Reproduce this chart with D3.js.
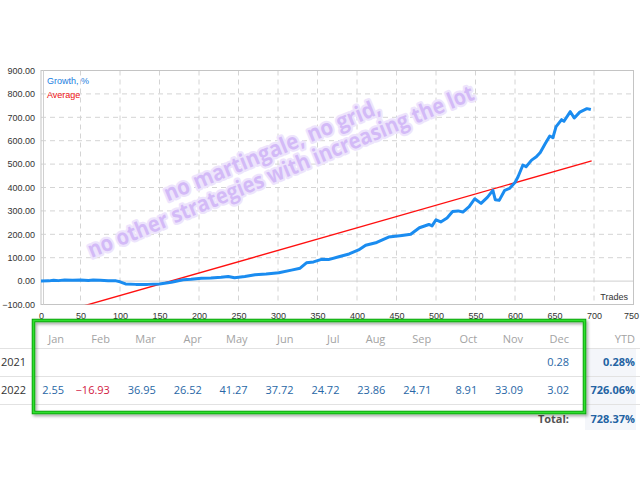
<!DOCTYPE html>
<html>
<head>
<meta charset="utf-8">
<script src="https://cdn.jsdelivr.net/npm/d3@7"></script>
<style>
html,body{margin:0;padding:0;background:#fff;}
svg{display:block;}
</style>
</head>
<body>
<svg id="chart" width="640" height="480"></svg>
<script>
// ---- Data ----
const growthTrades = [0, 10, 16, 22, 30, 40, 50, 60, 66, 75, 85, 95, 100, 107, 120, 135, 150, 165, 180, 190, 203, 215, 228, 237, 245, 258, 271, 285, 301, 317, 328, 336, 345, 355, 364, 377, 390, 402, 411, 425, 440, 457, 468, 479, 491, 495, 500, 506, 514, 521, 528, 534, 542, 549, 557, 565, 572, 575, 580, 587, 593, 600, 604, 610, 614, 621, 627, 632, 638, 644, 648, 652, 659, 662, 670, 675, 682, 691, 696];
const growthValues = [0, 1, 4, 2, 5, 4, 5, 3, 5, 4, 2, 1, -3, -12, -14, -14, -12, -5, 6, 8, 12, 13, 16, 20, 14, 20, 27, 30, 36, 47, 55, 78, 82, 93, 92, 104, 116, 133, 153, 165, 188, 195, 200, 228, 242, 236, 262, 253, 270, 297, 300, 295, 318, 352, 332, 358, 388, 348, 345, 388, 396, 421, 447, 496, 489, 517, 531, 550, 586, 620, 613, 660, 690, 683, 724, 697, 722, 737, 733];
const averageTrades = [0, 697];
const averageValues = [-158, 514];
const xTicks = [0, 50, 100, 150, 200, 250, 300, 350, 400, 450, 500, 550, 600, 650, 700, 750];
const yTicks = [-100, 0, 100, 200, 300, 400, 500, 600, 700, 800, 900];
const legendLabels = ["Growth, %", "Average"];
const watermarkLines = ["no martingale, no grid,", "no other strategies with increasing the lot"];

const months = ["Jan","Feb","Mar","Apr","May","Jun","Jul","Aug","Sep","Oct","Nov","Dec"];
const years = ["2021","2022"];
const row2021 = [null,null,null,null,null,null,null,null,null,null,null,0.28];
const row2022 = [2.55,-16.93,36.95,26.52,41.27,37.72,24.72,23.86,24.71,8.91,33.09,3.02];
const ytdValues = ["0.28%","726.06%"];
const totalValue = "728.37%";

// ---- Chart ----
const svg = d3.select("#chart");
const pL = 41, pR = 633.5, pT = 70.5, pB = 304.5;
const x = d3.scaleLinear().domain([0, 750]).range([pL, pR]);
const y = d3.scaleLinear().domain([-100, 900]).range([pB, pT]);

const defs = svg.append("defs");
defs.append("clipPath").attr("id","plotclip").append("rect")
  .attr("x", pL).attr("y", pT).attr("width", pR-pL).attr("height", pB-pT);
const sh = defs.append("filter").attr("id","shadow").attr("x","-5%").attr("y","-10%").attr("width","110%").attr("height","130%");
sh.append("feDropShadow").attr("dx",1.5).attr("dy",2).attr("stdDeviation",1.5).attr("flood-color","#000").attr("flood-opacity",0.35);

// grid
const g = svg.append("g");
g.selectAll("line.vg").data(xTicks.filter(d => d > 0 && d < 750)).enter().append("line")
  .attr("x1", d => x(d)).attr("x2", d => x(d)).attr("y1", pT).attr("y2", pB)
  .attr("stroke", "#d4d4d4").attr("stroke-dasharray", "5,4").attr("stroke-width", 1);
g.selectAll("line.hg").data(yTicks.filter(d => d > -100 && d < 900 && d !== 0)).enter().append("line")
  .attr("x1", pL).attr("x2", pR).attr("y1", d => y(d)).attr("y2", d => y(d))
  .attr("stroke", "#d4d4d4").attr("stroke-dasharray", "5,4").attr("stroke-width", 1);
g.append("line").attr("x1", pL).attr("x2", pR).attr("y1", y(0)).attr("y2", y(0))
  .attr("stroke", "#cfcfcf").attr("stroke-width", 1);

// frame
g.append("rect").attr("x", pL).attr("y", pT).attr("width", pR-pL).attr("height", pB-pT)
  .attr("fill", "none").attr("stroke", "#c4c4c4").attr("stroke-width", 1);
g.append("line").attr("x1", pL+2.5).attr("x2", pL+2.5).attr("y1", pT).attr("y2", pB)
  .attr("stroke", "#d0d0d0").attr("stroke-width", 1);

// axis labels
const axisFont = "'Liberation Sans', Arial, sans-serif";
const yAxis = d3.axisLeft(y).tickValues(yTicks).tickFormat(d3.format(".2f")).tickSize(0).tickPadding(6);
const ya = svg.append("g").attr("transform", `translate(${pL},0)`).call(yAxis);
ya.select(".domain").remove();
ya.selectAll("text").attr("font-family", axisFont).attr("font-size", 9).attr("fill", "#333");

const xAxis = d3.axisBottom(x).tickValues(xTicks).tickFormat(d3.format("d")).tickSize(0).tickPadding(8);
const xa = svg.append("g").attr("transform", `translate(0,${pB})`).call(xAxis);
xa.select(".domain").remove();
xa.selectAll("text").attr("font-family", axisFont).attr("font-size", 9).attr("fill", "#333")
  .attr("text-anchor", d => d === 750 ? "end" : "middle")
  .attr("dx", d => d === 750 ? 5 : 0);

svg.append("text").attr("x", 628).attr("y", 300).attr("text-anchor", "end")
  .attr("font-family", axisFont).attr("font-size", 9).attr("fill", "#333").text("Trades");

// lines
const plot = svg.append("g").attr("clip-path", "url(#plotclip)");
const avgData = averageTrades.map((t,i) => [t, averageValues[i]]);
plot.append("path").datum(avgData)
  .attr("d", d3.line().x(d => x(d[0])).y(d => y(d[1])))
  .attr("fill", "none").attr("stroke", "#ff1010").attr("stroke-width", 1.4);
const grData = growthTrades.map((t,i) => [t, growthValues[i]]);
plot.append("path").datum(grData)
  .attr("d", d3.line().x(d => x(d[0])).y(d => y(d[1])))
  .attr("fill", "none").attr("stroke", "#1a8cf0").attr("stroke-width", 3).attr("stroke-linejoin", "round");

// legend
svg.append("text").attr("x", 47).attr("y", 84).attr("font-family", axisFont).attr("font-size", 9)
  .attr("fill", "#1a7ee0").text(legendLabels[0]);
svg.append("text").attr("x", 47).attr("y", 98).attr("font-family", axisFont).attr("font-size", 9)
  .attr("fill", "#ee1111").text(legendLabels[1]);

// watermark
const wm = svg.append("g").attr("transform", "translate(276,160) rotate(-22.5)");
const wmLens = [232, 416];
watermarkLines.forEach((t, i) => {
  wm.append("text").attr("x", 0).attr("y", i === 0 ? -3 : 20)
    .attr("text-anchor", "middle")
    .attr("font-family", "'Open Sans', Arial, sans-serif").attr("font-weight", "bold").attr("font-size", 22)
    .attr("textLength", wmLens[i]).attr("lengthAdjust", "spacingAndGlyphs")
    .attr("fill", "#d3baf7").attr("stroke", "#ede4fc").attr("stroke-width", 4.5)
    .attr("stroke-linejoin", "round").attr("paint-order", "stroke")
    .text(t);
});

// ---- Table ----
const tFont = "'Open Sans', Arial, sans-serif";
const colRight = d3.scaleLinear().domain([0, 11]).range([64, 569]);
const rowY = { header: 343, r2021: 366, r2022: 394, total: 423 };

// YTD background
svg.append("rect").attr("x", 585).attr("y", 348).attr("width", 51).attr("height", 82).attr("fill", "#f4f6fa");

// row separators
[348.5, 376.5, 404.5].forEach(yy => {
  svg.append("line").attr("x1", 0).attr("x2", 640).attr("y1", yy).attr("y2", yy)
    .attr("stroke", "#e2e2e2").attr("stroke-width", 1);
});

// headers
svg.selectAll("text.mh").data(months).enter().append("text")
  .attr("x", (d,i) => colRight(i)).attr("y", rowY.header).attr("text-anchor", "end")
  .attr("font-family", tFont).attr("font-size", 11).attr("fill", "#a3a3a3").text(d => d);
svg.append("text").attr("x", 635).attr("y", rowY.header).attr("text-anchor", "end")
  .attr("font-family", tFont).attr("font-size", 11).attr("fill", "#a3a3a3").text("YTD");

// year labels
years.forEach((yr, i) => {
  svg.append("text").attr("x", 1).attr("y", i === 0 ? rowY.r2021 : rowY.r2022)
    .attr("font-family", tFont).attr("font-size", 11).attr("fill", "#333").text(yr);
});

// values
const fmt = d3.format(".2f");
[row2021, row2022].forEach((row, ri) => {
  const yy = ri === 0 ? rowY.r2021 : rowY.r2022;
  svg.selectAll(null).data(row.map((v,i) => ({v, i})).filter(d => d.v !== null)).enter().append("text")
    .attr("x", d => colRight(d.i)).attr("y", yy).attr("text-anchor", "end")
    .attr("font-family", tFont).attr("font-size", 11)
    .attr("fill", d => d.v < 0 ? "#d2193f" : "#2867a6").text(d => fmt(d.v));
  svg.append("text").attr("x", 635).attr("y", yy).attr("text-anchor", "end")
    .attr("font-family", tFont).attr("font-size", 11).attr("font-weight", "bold")
    .attr("fill", "#2363a3").text(ytdValues[ri]);
});

svg.append("text").attr("x", 569).attr("y", rowY.total).attr("text-anchor", "end")
  .attr("font-family", tFont).attr("font-size", 11).attr("font-weight", "bold").attr("fill", "#555").text("Total:");
svg.append("text").attr("x", 635).attr("y", rowY.total).attr("text-anchor", "end")
  .attr("font-family", tFont).attr("font-size", 11).attr("font-weight", "bold").attr("fill", "#2363a3").text(totalValue);

// green box
svg.append("rect").attr("x", 33.5).attr("y", 320.5).attr("width", 551).attr("height", 92)
  .attr("fill", "none").attr("stroke", "#0d9a0d").attr("stroke-width", 3.5).attr("filter", "url(#shadow)");
svg.append("rect").attr("x", 33.5).attr("y", 320.5).attr("width", 551).attr("height", 92)
  .attr("fill", "none").attr("stroke", "#2ee02e").attr("stroke-width", 1.8);
</script>
</body>
</html>
